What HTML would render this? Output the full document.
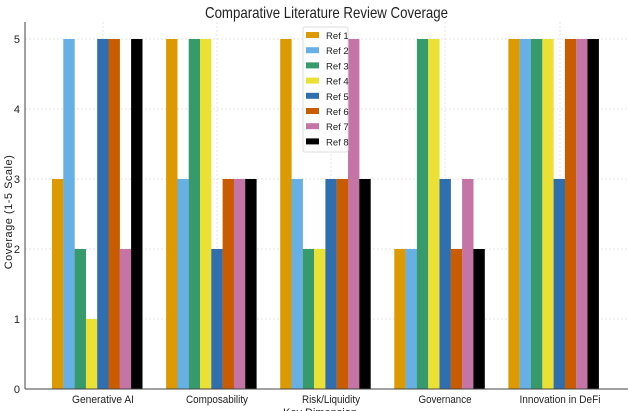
<!DOCTYPE html>
<html><head><meta charset="utf-8"><style>
html,body{margin:0;padding:0;background:#fff;}
svg{display:block;font-family:"Liberation Sans",sans-serif;}
</style></head><body>
<svg width="628" height="411" xmlns="http://www.w3.org/2000/svg">
<rect width="628" height="411" fill="#fff"/>
<text x="205" y="18" font-size="16" fill="#222" textLength="243" lengthAdjust="spacingAndGlyphs">Comparative Literature Review Coverage</text>
<g stroke="#ddd" stroke-dasharray="2,2" stroke-width="0.8">
<line x1="25" x2="628" y1="39" y2="39"/><line x1="25" x2="628" y1="109" y2="109"/><line x1="25" x2="628" y1="179" y2="179"/><line x1="25" x2="628" y1="249" y2="249"/><line x1="25" x2="628" y1="319" y2="319"/>
<line x1="103" x2="103" y1="22" y2="389"/><line x1="217" x2="217" y1="22" y2="389"/><line x1="331" x2="331" y1="22" y2="389"/><line x1="445" x2="445" y1="22" y2="389"/><line x1="560" x2="560" y1="22" y2="389"/>
</g>
<g>
<rect x="52" y="179" width="11.4" height="210" fill="#dc9a00"/>
<rect x="63.3" y="39" width="11.4" height="350" fill="#66b0e6"/>
<rect x="74.6" y="249" width="11.4" height="140" fill="#379a6d"/>
<rect x="85.9" y="319" width="11.4" height="70" fill="#ebe134"/>
<rect x="97.2" y="39" width="11.4" height="350" fill="#2f6eaf"/>
<rect x="108.5" y="39" width="11.4" height="350" fill="#c95b00"/>
<rect x="119.8" y="249" width="11.4" height="140" fill="#c474a5"/>
<rect x="131.1" y="39" width="11.4" height="350" fill="#000"/>

<rect x="166.1" y="39" width="11.4" height="350" fill="#dc9a00"/>
<rect x="177.4" y="179" width="11.4" height="210" fill="#66b0e6"/>
<rect x="188.7" y="39" width="11.4" height="350" fill="#379a6d"/>
<rect x="200" y="39" width="11.4" height="350" fill="#ebe134"/>
<rect x="211.3" y="249" width="11.4" height="140" fill="#2f6eaf"/>
<rect x="222.6" y="179" width="11.4" height="210" fill="#c95b00"/>
<rect x="233.9" y="179" width="11.4" height="210" fill="#c474a5"/>
<rect x="245.2" y="179" width="11.4" height="210" fill="#000"/>

<rect x="280.2" y="39" width="11.4" height="350" fill="#dc9a00"/>
<rect x="291.5" y="179" width="11.4" height="210" fill="#66b0e6"/>
<rect x="302.8" y="249" width="11.4" height="140" fill="#379a6d"/>
<rect x="314.1" y="249" width="11.4" height="140" fill="#ebe134"/>
<rect x="325.4" y="179" width="11.4" height="210" fill="#2f6eaf"/>
<rect x="336.7" y="179" width="11.4" height="210" fill="#c95b00"/>
<rect x="348" y="39" width="11.4" height="350" fill="#c474a5"/>
<rect x="359.3" y="179" width="11.4" height="210" fill="#000"/>

<rect x="394.3" y="249" width="11.4" height="140" fill="#dc9a00"/>
<rect x="405.6" y="249" width="11.4" height="140" fill="#66b0e6"/>
<rect x="416.9" y="39" width="11.4" height="350" fill="#379a6d"/>
<rect x="428.2" y="39" width="11.4" height="350" fill="#ebe134"/>
<rect x="439.5" y="179" width="11.4" height="210" fill="#2f6eaf"/>
<rect x="450.8" y="249" width="11.4" height="140" fill="#c95b00"/>
<rect x="462.1" y="179" width="11.4" height="210" fill="#c474a5"/>
<rect x="473.4" y="249" width="11.4" height="140" fill="#000"/>

<rect x="508.4" y="39" width="11.4" height="350" fill="#dc9a00"/>
<rect x="519.7" y="39" width="11.4" height="350" fill="#66b0e6"/>
<rect x="531" y="39" width="11.4" height="350" fill="#379a6d"/>
<rect x="542.3" y="39" width="11.4" height="350" fill="#ebe134"/>
<rect x="553.6" y="179" width="11.4" height="210" fill="#2f6eaf"/>
<rect x="564.9" y="39" width="11.4" height="350" fill="#c95b00"/>
<rect x="576.2" y="39" width="11.4" height="350" fill="#c474a5"/>
<rect x="587.5" y="39" width="11.4" height="350" fill="#000"/>
</g>
<line x1="25" y1="22" x2="25" y2="389" stroke="#444" stroke-width="1"/>
<line x1="25" y1="389" x2="628" y2="389" stroke="#444" stroke-width="1"/>
<g font-size="11" fill="#222" text-anchor="end">
<text x="20" y="393">0</text><text x="20" y="323">1</text><text x="20" y="253">2</text><text x="20" y="183">3</text><text x="20" y="113">4</text><text x="20" y="43">5</text>
</g>
<g font-size="11" fill="#222" text-anchor="middle">
<text x="103" y="403" textLength="62" lengthAdjust="spacingAndGlyphs">Generative AI</text>
<text x="217" y="403" textLength="62" lengthAdjust="spacingAndGlyphs">Composability</text>
<text x="331" y="403" textLength="58" lengthAdjust="spacingAndGlyphs">Risk/Liquidity</text>
<text x="445" y="403" textLength="53" lengthAdjust="spacingAndGlyphs">Governance</text>
<text x="560" y="403" textLength="81" lengthAdjust="spacingAndGlyphs">Innovation in DeFi</text>
<text x="320" y="416">Key Dimension</text>
</g>
<text transform="translate(12,212) rotate(-90)" font-size="11" fill="#222" text-anchor="middle" letter-spacing="0.5">Coverage (1-5 Scale)</text>
<g font-size="9.5" fill="#222">
<rect x="303" y="27" width="45" height="125" fill="#fff" stroke="#ddd" rx="2"/>
<rect x="306" y="32" width="13" height="6" fill="#dc9a00"/><text x="326" y="39">Ref 1</text>
<rect x="306" y="47.2" width="13" height="6" fill="#66b0e6"/><text x="326" y="54.2">Ref 2</text>
<rect x="306" y="62.4" width="13" height="6" fill="#379a6d"/><text x="326" y="69.4">Ref 3</text>
<rect x="306" y="77.6" width="13" height="6" fill="#ebe134"/><text x="326" y="84.6">Ref 4</text>
<rect x="306" y="92.8" width="13" height="6" fill="#2f6eaf"/><text x="326" y="99.8">Ref 5</text>
<rect x="306" y="108" width="13" height="6" fill="#c95b00"/><text x="326" y="115">Ref 6</text>
<rect x="306" y="123.2" width="13" height="6" fill="#c474a5"/><text x="326" y="130.2">Ref 7</text>
<rect x="306" y="138.4" width="13" height="6" fill="#000"/><text x="326" y="145.4">Ref 8</text>
</g>
</svg>
</body></html>
